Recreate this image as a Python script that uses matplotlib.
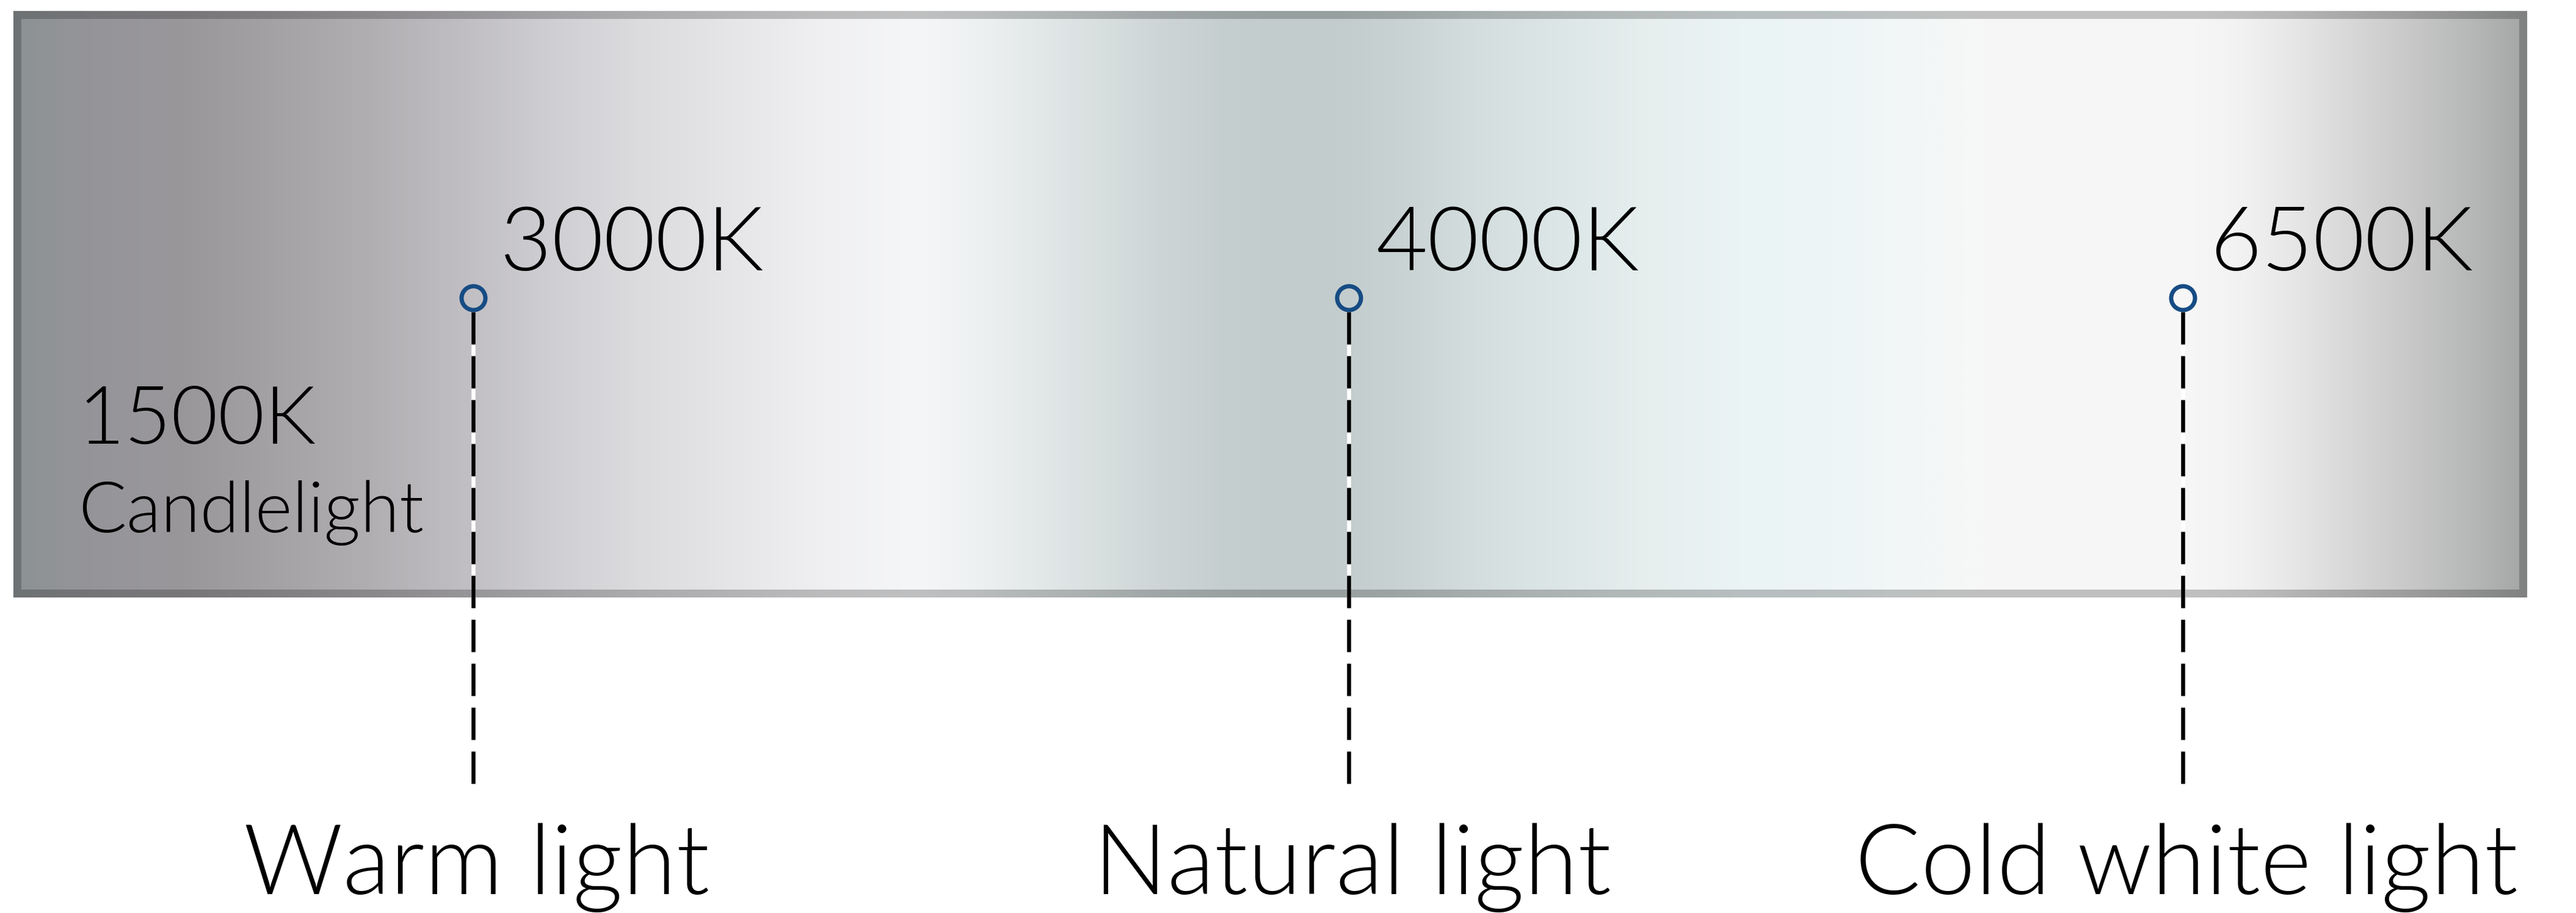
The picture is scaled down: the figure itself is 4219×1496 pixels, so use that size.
"""
Colour temperature scale: gradient bar with Kelvin markers and light names.
"""

import numpy as np
import matplotlib
matplotlib.use("Agg")
import matplotlib.pyplot as plt
from matplotlib.colors import to_rgb

# ---- data -------------------------------------------------------------
temp_labels = ["3000K", "4000K", "6500K"]
temp_pos = [0.1829, 0.5312, 0.8630]          # position along the bar (0 = left edge, 1 = right edge)
light_names = ["Warm light", "Natural light", "Cold white light"]
low_label = "1500K"
low_name = "Candlelight"

# ---- style ------------------------------------------------------------
W, H, DPI = 4219, 1496, 100
BAR_X0, BAR_X1 = 22, 4139        # bar outer edges, px
BAR_Y0, BAR_Y1 = 18, 979
BORDER = 13
MARKER_Y = 488
LINE_Y0, LINE_Y1 = 511, 1289
BLUE = "#164c84"
FONT = ["Lato", "DejaVu Sans"]
WEIGHT = 300

# horizontal gradient stops (px column, colour)
grad_px = [22, 60, 150, 300, 450, 600, 750, 900, 1050, 1200, 1350, 1500,
           1600, 1700, 1800, 1900, 2000, 2100, 2200, 2300, 2400, 2500, 2600,
           2700, 2850, 3000, 3150, 3250, 3600, 3680, 3750, 3850, 3950, 4050, 4139]
grad_col = ["#8c9294", "#8f9395", "#959599", "#9a979b", "#a5a2a6", "#b1aeb2",
            "#bfbdc1", "#cfced2", "#dcdbde", "#e6e5e8", "#f0f0f2", "#f5f6f7",
            "#eef1f2", "#e3e8e9", "#d8dfdf", "#cdd5d6", "#c6cfcf", "#c3cccc",
            "#c4cdcd", "#cad3d3", "#d2dcdc", "#dae3e3", "#e0e9e9", "#e6eeee",
            "#ebf4f5", "#edf5f6", "#f4f7f7", "#f7f7f7", "#f6f6f6", "#f1f1f1",
            "#e8e8e8", "#d8d8d8", "#c8c8c8", "#b6b7b7", "#a4a5a5"]

span = BAR_X1 - BAR_X0


def px(x):
    """Pixel column -> bar fraction."""
    return (x - BAR_X0) / span


def gradient(x_from, x_to, n=1500):
    xs = np.linspace(x_from, x_to, n)
    stops = np.array([to_rgb(c) for c in grad_col])
    rgb = np.stack([np.interp(xs, grad_px, stops[:, k]) for k in range(3)], axis=-1)
    return rgb[None, :, :]


fig = plt.figure(figsize=(W / DPI, H / DPI), dpi=DPI)
fig.patch.set_facecolor("white")
ax = fig.add_axes([0, 0, 1, 1])

# bar: darker border, then inner gradient
ax.imshow(np.clip(gradient(BAR_X0, BAR_X1) * 0.78, 0, 1),
          extent=(0, 1, BAR_Y1, BAR_Y0), aspect="auto",
          interpolation="bilinear", zorder=0)
ax.imshow(gradient(BAR_X0 + BORDER, BAR_X1 - BORDER),
          extent=(px(BAR_X0 + BORDER), px(BAR_X1 - BORDER),
                  BAR_Y1 - BORDER, BAR_Y0 + BORDER),
          aspect="auto", interpolation="bilinear", zorder=1)

# dashed drop lines (white gaps) and ring markers
lw = 6.5 * 72 / DPI
for p in temp_pos:
    ax.plot([p, p], [LINE_Y0, LINE_Y1], color="white", lw=lw,
            solid_capstyle="butt", zorder=2)
    ax.plot([p, p], [LINE_Y0, LINE_Y1], color="black", lw=lw,
            linestyle=(0, (53 * 72 / DPI / lw, 19 * 72 / DPI / lw)),
            dash_capstyle="butt", zorder=3)
ax.plot(temp_pos, [MARKER_Y] * len(temp_pos), "o", ms=39 * 72 / DPI,
        mfc="none", mec=BLUE, mew=7 * 72 / DPI, zorder=4)

# labels
for p, lab in zip(temp_pos, temp_labels):
    ax.text(p + 44 / span, 443, lab, fontsize=105, family=FONT,
            weight=WEIGHT, ha="left", va="baseline", zorder=5)
for p, name in zip(temp_pos, light_names):
    ax.text(p + 6 / span, 1465, name, fontsize=115, family=FONT,
            weight=WEIGHT, ha="center", va="baseline", zorder=5)
ax.text(px(128), 727, low_label, fontsize=95, family=FONT,
        weight=WEIGHT, ha="left", va="baseline", zorder=5)
ax.text(px(128), 872, low_name, fontsize=84, family=FONT,
        weight=WEIGHT, ha="left", va="baseline", zorder=5)

ax.set_xlim(-BAR_X0 / span, (W - BAR_X0) / span)
ax.set_ylim(H, 0)
ax.axis("off")

fig.savefig("out.png", dpi=DPI, facecolor="white")
plt.close(fig)
